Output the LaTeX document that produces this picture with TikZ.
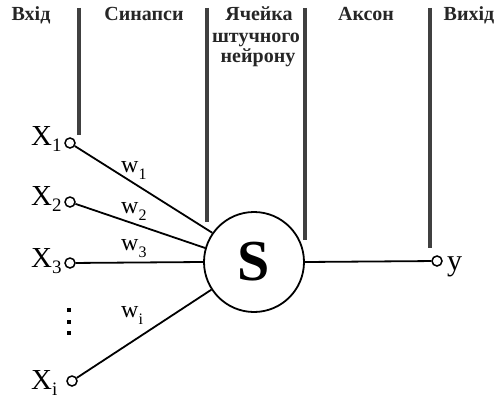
\documentclass[tikz,border=0pt]{standalone}
\usepackage{fontspec}
\setmainfont{Liberation Serif}
\newcommand{\lowsub}[2]{#1\raisebox{-0.22em}{\fontsize{19}{20}\selectfont #2}}
\newcommand{\wsub}[2]{#1\raisebox{-0.3em}{\fontsize{16}{18}\selectfont #2}}
\begin{document}
\begin{tikzpicture}[x=1pt,y=-1pt,
  sep/.style={line width=3.5pt,draw=black!75},
  wire/.style={line width=1.8pt,draw=black},
  port/.style={circle,draw=black,line width=1.5pt,fill=white,minimum size=10pt,inner sep=0pt},
  head/.style={font=\fontsize{20}{22}\selectfont\bfseries,text=black!85,inner sep=0pt,anchor=base},
  xlab/.style={font=\fontsize{29}{30}\selectfont,inner sep=0pt,anchor=base west},
  wlab/.style={font=\fontsize{24}{26}\selectfont,inner sep=0pt,anchor=base west},
  dot/.style={fill=black,minimum size=4.5pt,inner sep=0pt}]
\useasboundingbox (0,0) rectangle (497,401);
% column separators
\coordinate (s1t) at (79,8);   \coordinate (s1b) at (79,135);
\coordinate (s2t) at (207,8);  \coordinate (s2b) at (207,222);
\coordinate (s3t) at (305,8);  \coordinate (s3b) at (305,240);
\coordinate (s4t) at (430,8);  \coordinate (s4b) at (430,248);
\draw[sep] (s1t) -- (s1b);
\draw[sep] (s2t) -- (s2b);
\draw[sep] (s3t) -- (s3b);
\draw[sep] (s4t) -- (s4b);
% headers
\node[head] (h1) at (31,21) {Вхід};
\node[head] (h2) at (144,21) {Синапси};
\node[head] (h3) at (259,21) {Ячейка};
\node[head] (h4) at (256,43) {штучного};
\node[head] (h5) at (258,63) {нейрону};
\node[head] (h6) at (366,21) {Аксон};
\node[head] (h7) at (469,21) {Вихід};
% neuron
\node[circle,draw=black,line width=1.8pt,minimum size=100pt,inner sep=0pt] (S) at (254,262)
  {\fontsize{58}{60}\selectfont\bfseries S};
% inputs
\node[port] (p1) at (70,143) {};
\node[port] (p2) at (70,202) {};
\node[port] (p3) at (70,263) {};
\node[port] (pi) at (72,381) {};
\node[xlab] (x1) at (31,145) {\lowsub{X}{1}};
\node[xlab] (x2) at (31,205) {\lowsub{X}{2}};
\node[xlab] (x3) at (31,267) {\lowsub{X}{3}};
\node[xlab] (xi) at (31,389) {\lowsub{X}{i}};
\node[dot] (d1) at (69,310) {};
\node[dot] (d2) at (69,322) {};
\node[dot] (d3) at (69,333) {};
% weights
\draw[wire] (p1) -- (S.{180-35});
\draw[wire] (p2) -- (S.{180-16});
\draw[wire] (p3) -- (S.180);
\draw[wire] (pi) -- (S.{180+33});
\node[wlab] (w1) at (121,172) {\wsub{w}{1}};
\node[wlab] (w2) at (121,213) {\wsub{w}{2}};
\node[wlab] (w3) at (121,250) {\wsub{w}{3}};
\node[wlab] (wi) at (121,317) {\wsub{w}{i}};
% output
\node[port] (out) at (437,261) {};
\draw[wire] (S.east) -- (out);
\node[font=\fontsize{30}{32}\selectfont,inner sep=0pt,anchor=base west] (y) at (447,270) {y};
\end{tikzpicture}
\end{document}
